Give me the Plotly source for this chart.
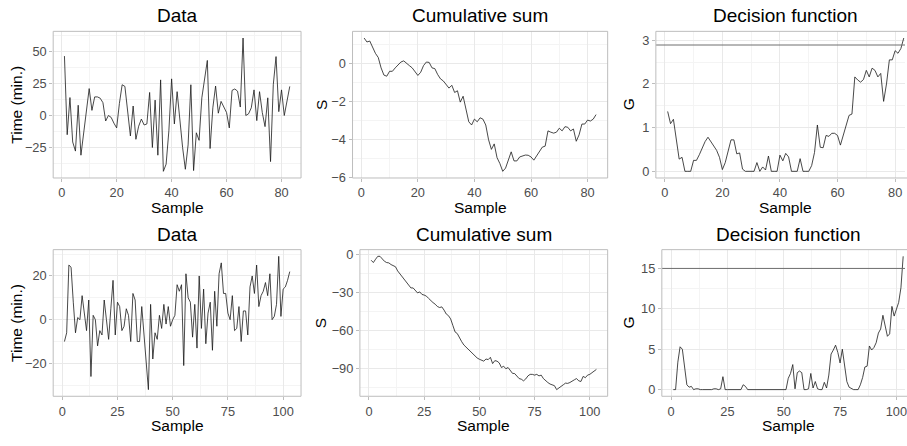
import plotly.graph_objects as go

W, H = 907, 446

# ---------------- data ----------------
sample_top = list(range(1, 84))
data_top = [46.4, -15, 14, -20.7, -27.8, 8, -31, -13.5, 4, 21,
            4, 14.5, 14.5, 13.5, 10, -4.3, 0, -1.5, -6, -9.7,
            9.4, 24, 22.7, 5.6, -16, 7.4, -18.6, -8.4, -2.8, -7.4,
            -6.6, 18, -25, 12, -31, 27.8, -43.6, -38, -12, 28.6,
            -6.6, 18.6, -5, -25, -42, -23, 24, -43, -13.5, -19.4,
            13.8, 27.8, 43, -25.8, 6, 23, 1.8, 11, 6, 2.3,
            -9.7, 19.6, 20.7, 19, 6.6, 60.5, 0, 1.3, 6, 20,
            -4, 18.6, 2.3, -8.7, 13.8, -36, 24, 46, 3, 20,
            0, 11, 22.7]
cusum_top = [1.36, 1.15, 1.2, 0.86, 0.55, 0.33, -0.22, -0.6, -0.66, -0.4,
             -0.4, -0.22, -0.05, 0.09, 0.15, 0, -0.1, -0.22, -0.4, -0.62,
             -0.45, -0.1, 0.09, 0.07, -0.22, -0.26, -0.57, -0.8, -0.91, -1.09,
             -1.29, -1.14, -1.52, -1.43, -2.03, -1.72, -2.34, -3.07, -3.24, -2.93,
             -3.07, -2.86, -2.93, -3.24, -4.02, -4.53, -4.24, -4.97, -5.28, -5.69,
             -5.52, -5.14, -4.66, -5.14, -5.14, -4.93, -4.88, -4.83, -4.84, -4.93,
             -5.1, -4.88, -4.66, -4.41, -4.36, -3.55, -3.62, -3.67, -3.62, -3.41,
             -3.55, -3.33, -3.36, -3.55, -3.45, -4.1, -3.76, -3.19, -3.19, -2.98,
             -3.03, -2.93, -2.69]
g_top = [1.37, 1.09, 1.19, 0.72, 0.28, 0.32, 0, 0, 0, 0.25,
         0.25, 0.38, 0.53, 0.68, 0.78, 0.67, 0.58, 0.48, 0.32, 0.04,
         0.2, 0.48, 0.72, 0.72, 0.4, 0.42, 0.05, 0, 0, 0,
         0, 0.2, 0, 0.1, 0.03, 0.35, 0, 0, 0, 0.37,
         0.24, 0.41, 0.33, 0, 0, 0, 0.29, 0, 0, 0,
         0.13, 0.43, 1.06, 0.55, 0.54, 0.82, 0.8, 0.87, 0.87, 0.82,
         0.6, 0.84, 1.06, 1.28, 1.31, 2.16, 2.09, 2.04, 2.1, 2.31,
         2.16, 2.36, 2.31, 2.16, 2.24, 1.6, 2.0, 2.55, 2.55, 2.76,
         2.7, 2.81, 3.05]
h_top = 2.89

sample_bot = list(range(1, 104))
data_bot = [-10, -6, 25, 24, 8, -6, 1, 0, 11, 3,
            -5, 9, -26, 2, 0, -12, -5, -7, 9, 0,
            -9, 5, 18, -7, 8, 6, -5, -3, 5, 2,
            -10, 12, 9, -10, -10, 6, -8, -20, -32, 7,
            -18, -6, -9, 2, -4, 7, -2, 6, -3, 0,
            2, 16, 13, 16, -21, 21, 10, 8, -8, 7,
            -13, 20, -4, 14, -11, 3, 8, -14, 13, -3,
            21, 26, 12, 12, 3, 0, 11, -5, -4, 6,
            -10, 4, 4, -7, 15, 20, 12, 25, 6, 11,
            13, 17, 11, 21, 0, 1.5, 7, 29, 1.5, 14,
            15, 18, 22]
cusum_bot = [-4.6, -6.4, -3.8, -1.5, -1.5, -3.8, -5.4, -6.4, -6.7, -8,
             -9.2, -9.7, -13, -15.4, -17.2, -20, -21.8, -24.4, -26.4, -26.4,
             -28.2, -30.3, -29.5, -31.5, -32, -32.8, -34.6, -36.7, -37.9, -39.2,
             -41, -41.8, -41.3, -43.8, -46.9, -48.2, -50.8, -55.9, -61, -62.3,
             -66.2, -68.7, -71.3, -73, -75, -76.4, -78.5, -80, -81.5, -82.5,
             -83.3, -84, -82.3, -82.8, -81, -85.9, -83.6, -84, -85.4, -89,
             -88, -90, -89, -91.8, -93.6, -93.8, -95.6, -97.7, -98.2, -99.5,
             -98, -95.6, -94.4, -94.4, -95, -94.4, -95.6, -95, -97.7, -99.5,
             -100.8, -102, -102.8, -103.3, -106.4, -105, -103.3, -102.6, -101.3, -101.5,
             -100.8, -99.5, -98.7, -97.7, -99.5, -100, -96, -97, -95, -94.4,
             -93, -91.8, -90.5]
g_bot = [0, 0, 3.4, 5.3, 5, 2.6, 0.6, 0.3, 0.4, 0,
         0.1, 0.1, 0, 0, 0, 0, 0, 0, 0.1, 0.1,
         0, 0.1, 1.6, 0, 0, 0, 0, 0, 0, 0,
         0, 0.6, 0.4, 0, 0, 0, 0, 0, 0, 0,
         0, 0, 0, 0, 0, 0, 0, 0, 0, 0,
         0, 1.4, 2, 3.1, 0.1, 2.1, 2.3, 2.1, 0, 0,
         0.1, 2, 0.2, 1, 0.1, 0, 0, 0.9, 0.2, 1.8,
         4.4, 4.9, 5.5, 4.6, 3.3, 5, 3, 1, 0.3, 0.1,
         0, 0, 0, 0.6, 1.5, 2.8, 2.9, 5.4, 4.9, 5.2,
         5.8, 7, 7.5, 9.2, 7.8, 6.6, 6.9, 10.3, 9.1, 10,
         10.8, 12.6, 16.5]
h_bot = 15

titles = ["Data", "Cumulative sum", "Decision function"]
y_titles = ["Time (min.)", "S", "G"]
x_title = "Sample"

x_dtick_top, x_dtick_bot = 20, 25
y_dticks_top = [25, 2, 1]
y_dticks_bot = [20, 30, 5]

# ---------------- layout geometry (pixels) ----------------
# (left, right_of_full_panel, top, bottom)
panels = [
    (53.3, 301.7, 29, 179),
    (353.3, 609.0, 29, 179),
    (657.3, 917.6, 29, 179),
    (53.3, 301.7, 252.3, 402.3),
    (360.7, 609.0, 252.3, 402.3),
    (663.3, 916.7, 252.3, 402.3),
]

FONT = "Liberation Sans, Arial, Helvetica, sans-serif"
TICK_FONT = dict(family=FONT, size=12.8, color="#4d4d4d")
BORDER = "#bdbdbd"
GRID = "#e9e9e9"
GRID_MINOR = "#f4f4f4"


def expand(lo, hi, f=0.05):
    s = hi - lo
    return [lo - f * s, hi + f * s]


series = [
    (sample_top, data_top, None, x_dtick_top, y_dticks_top[0]),
    (sample_top, cusum_top, None, x_dtick_top, y_dticks_top[1]),
    (sample_top, g_top, h_top, x_dtick_top, y_dticks_top[2]),
    (sample_bot, data_bot, None, x_dtick_bot, y_dticks_bot[0]),
    (sample_bot, cusum_bot, None, x_dtick_bot, y_dticks_bot[1]),
    (sample_bot, g_bot, h_bot, x_dtick_bot, y_dticks_bot[2]),
]

fig = go.Figure()
layout = dict(
    width=W, height=H,
    margin=dict(l=0, r=0, t=0, b=0),
    paper_bgcolor="white", plot_bgcolor="white",
    showlegend=False,
    font=dict(family=FONT, color="black"),
)
shapes = []
annotations = []

for i, ((xs, ys, hline, xd, yd), (px0, px1, py0, py1)) in enumerate(zip(series, panels)):
    k = "" if i == 0 else str(i + 1)
    xr = expand(min(xs), max(xs))
    ylo, yhi = min(ys), max(ys)
    if hline is not None:
        ylo, yhi = min(ylo, hline), max(yhi, hline)
    yr = expand(ylo, yhi)
    vis_right = min(px1, W)
    xr_vis = [xr[0], xr[0] + (vis_right - px0) / (px1 - px0) * (xr[1] - xr[0])]
    dom_x = [px0 / W, vis_right / W]
    dom_y = [1 - py1 / H, 1 - py0 / H]

    axis_common = dict(
        showline=False, zeroline=False, showgrid=True,
        gridcolor=GRID, gridwidth=1,
        ticks="outside", ticklen=3, tickwidth=1, tickcolor=BORDER,
        tickfont=TICK_FONT,
    )
    layout["xaxis" + k] = dict(
        domain=dom_x, range=xr_vis, anchor="y" + k,
        tick0=0, dtick=xd, ticklabeloverflow="allow",
        minor=dict(dtick=xd / 2, tick0=0, showgrid=True, gridcolor=GRID_MINOR, gridwidth=1),
        **axis_common,
    )
    layout["yaxis" + k] = dict(
        domain=dom_y, range=yr, anchor="x" + k,
        tick0=0, dtick=yd,
        minor=dict(dtick=yd / 2, tick0=0, showgrid=True, gridcolor=GRID_MINOR, gridwidth=1),
        **axis_common,
    )

    fig.add_trace(go.Scatter(
        x=xs, y=ys, mode="lines",
        line=dict(color="#1a1a1a", width=0.8),
        xaxis="x" + k, yaxis="y" + k, hoverinfo="skip",
    ))
    if hline is not None:
        shapes.append(dict(type="line", xref="x" + k + " domain", x0=0, x1=1,
                           yref="y" + k, y0=hline, y1=hline,
                           line=dict(color="#6e6e6e", width=1)))

    shapes.append(dict(type="rect", xref="paper", yref="paper",
                       x0=px0 / W, x1=px1 / W, y0=1 - py1 / H, y1=1 - py0 / H,
                       line=dict(color=BORDER, width=1), layer="above"))

    col = i % 3
    cx = (px0 + px1) / 2
    cy = (py0 + py1) / 2
    annotations.append(dict(text=titles[col], xref="paper", yref="paper",
                            x=cx / W, y=1 - (py0 - 16) / H, xanchor="center", yanchor="middle",
                            showarrow=False, font=dict(family=FONT, size=19, color="black")))
    annotations.append(dict(text=x_title, xref="paper", yref="paper",
                            x=cx / W, y=1 - (py1 + 30) / H, xanchor="center", yanchor="middle",
                            showarrow=False, font=dict(family=FONT, size=15.5, color="black")))
    ytx = {0: 17, 1: 322, 2: 630}[col]
    annotations.append(dict(text=y_titles[col], xref="paper", yref="paper",
                            x=ytx / W, y=1 - cy / H, xanchor="center", yanchor="middle",
                            textangle=-90, showarrow=False,
                            font=dict(family=FONT, size=15.5, color="black")))

layout["shapes"] = shapes
layout["annotations"] = annotations
fig.update_layout(**layout)
fig.write_html("out.html",
               config={"displayModeBar": False, "staticPlot": True},
               post_script="document.body.style.margin='0px';document.body.style.overflow='hidden';")
